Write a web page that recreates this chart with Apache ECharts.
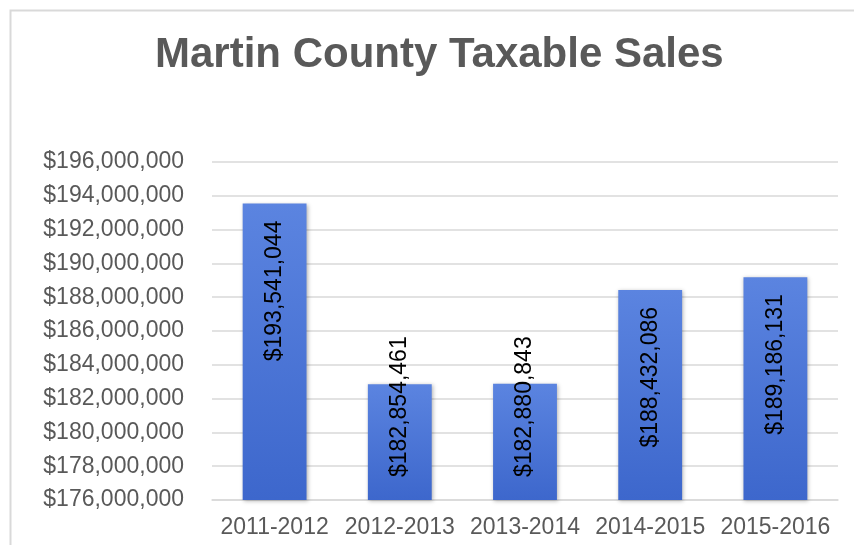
<!DOCTYPE html>
<html>
<head>
<meta charset="utf-8">
<title>Martin County Taxable Sales</title>
<script src="https://cdn.jsdelivr.net/npm/echarts@6/dist/echarts.min.js"></script>
<style>
  html, body { margin: 0; padding: 0; background: #ffffff; }
  #chart { width: 854px; height: 545px; }
</style>
</head>
<body>
<div id="chart"></div>
<script>
// Fiscal years and taxable sales totals
const fiscalYears = ['2011-2012', '2012-2013', '2013-2014', '2014-2015', '2015-2016'];
const taxableSales = [193541044, 182854461, 182880843, 188432086, 189186131];

// Value axis range
const Y_MIN = 176000000;
const Y_MAX = 196000000;
const Y_STEP = 2000000;

const FONT = '"Liberation Sans", Arial, sans-serif';
const fmtMoney = v => '$' + Math.round(v).toLocaleString('en-US');

// Short bars cannot hold their rotated label from the top; anchor those at the base instead
const LABEL_SPAN = 9000000;
const seriesData = taxableSales.map(v => {
  const fitsFromTop = (v - Y_MIN) > LABEL_SPAN;
  return {
    value: v,
    label: fitsFromTop
      ? { position: 'insideTop', align: 'right', verticalAlign: 'middle', distance: 17 }
      : { position: 'insideBottom', align: 'left', verticalAlign: 'middle', distance: 23 }
  };
});

const chart = echarts.init(document.getElementById('chart'), null, { renderer: 'canvas' });

chart.setOption({
  backgroundColor: '#ffffff',
  animation: false,
  title: {
    text: 'Martin County Taxable Sales',
    left: 150,
    top: 29,
    textStyle: { fontFamily: FONT, fontSize: 42, fontWeight: 'bold', color: '#595959' }
  },
  graphic: [{
    type: 'rect',
    left: 8, top: 8,
    shape: { width: 900, height: 600 },
    style: { fill: 'none', stroke: '#d9d9d9', lineWidth: 2 },
    silent: true
  }],
  grid: { left: 212, right: 16, top: 162, bottom: 45, containLabel: false },
  xAxis: {
    type: 'category',
    data: fiscalYears,
    axisLine: { lineStyle: { color: '#d9d9d9', width: 1.5 } },
    axisTick: { show: false },
    axisLabel: { interval: 0, fontFamily: FONT, fontSize: 23, color: '#595959', margin: 16 }
  },
  yAxis: {
    type: 'value',
    min: Y_MIN,
    max: Y_MAX,
    interval: Y_STEP,
    axisLine: { show: false },
    axisTick: { show: false },
    splitLine: { lineStyle: { color: '#d9d9d9', width: 1.5 } },
    axisLabel: { fontFamily: FONT, fontSize: 23, color: '#595959', margin: 28, formatter: fmtMoney }
  },
  series: [{
    type: 'bar',
    data: seriesData,
    barCategoryGap: '49%',
    itemStyle: {
      color: new echarts.graphic.LinearGradient(0, 0, 0, 1, [
        { offset: 0, color: '#5b84e0' },
        { offset: 1, color: '#3d67cc' }
      ]),
      shadowBlur: 4,
      shadowOffsetX: 1,
      shadowOffsetY: 1,
      shadowColor: 'rgba(0,0,0,0.3)'
    },
    label: {
      show: true,
      rotate: 90,
      fontFamily: FONT,
      fontSize: 23,
      color: '#000000',
      formatter: p => fmtMoney(p.value)
    }
  }]
});
</script>
</body>
</html>
